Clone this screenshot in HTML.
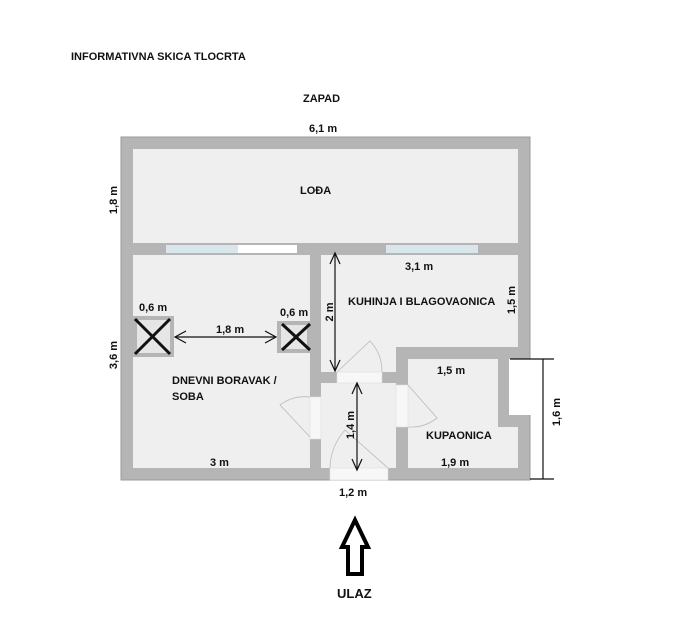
<!DOCTYPE html>
<html><head><meta charset="utf-8"><style>
body{margin:0;background:#fff;width:681px;height:624px;overflow:hidden}
text{font-family:"Liberation Sans",sans-serif;font-weight:bold;font-size:11px;fill:#111}
</style></head><body>
<svg width="681" height="624" viewBox="0 0 681 624" xmlns="http://www.w3.org/2000/svg">
<text x="71" y="60">INFORMATIVNA SKICA TLOCRTA</text>
<text x="303" y="102">ZAPAD</text>
<text x="309" y="132">6,1 m</text>
<rect x="121" y="137" width="409" height="343" fill="#b5b5b5" stroke="#9a9a9a"/>
<rect x="509" y="359" width="22" height="56" fill="#fff"/>
<g fill="#efefef">
<rect x="133" y="149" width="385" height="94"/>
<rect x="133" y="255" width="177" height="213"/>
<rect x="321" y="255" width="197" height="92"/>
<rect x="321" y="347" width="75" height="25"/>
<rect x="321" y="383" width="75" height="85"/>
<rect x="408" y="359" width="90" height="109"/>
<rect x="408" y="427" width="110" height="41"/>
</g>
<g fill="#f7f7f7" stroke="#ddd" stroke-width="0.6">
<rect x="337" y="372" width="45" height="11"/>
<rect x="330" y="468" width="58" height="12"/>
<rect x="310" y="397" width="11" height="42"/>
<rect x="396" y="385" width="12" height="42"/>
</g>
<rect x="166" y="245" width="72" height="8" fill="#d9e6ec"/>
<rect x="238" y="245" width="59" height="8" fill="#fff"/>
<rect x="386" y="245" width="92" height="8" fill="#d9e6ec"/>
<g fill="none" stroke="#bbb" stroke-width="0.8">
<path d="M382 372 A45 45 0 0 0 370 341 L337 372"/>
<path d="M310 397 A42 42 0 0 0 280 405 L310 437"/>
<path d="M330 468 A58 58 0 0 1 345 430 L388 468"/>
<path d="M408 427 A42 42 0 0 0 437 418 L408 385"/>
</g>
<rect x="133" y="316" width="41" height="41" fill="#b5b5b5"/>
<rect x="137" y="320" width="33" height="33" fill="#e6e6e6"/>
<rect x="277" y="321" width="34" height="32" fill="#b5b5b5"/>
<rect x="281" y="325" width="26" height="24" fill="#e6e6e6"/>
<g stroke="#111" stroke-width="3">
<line x1="135" y1="319" x2="170" y2="354"/><line x1="170" y1="319" x2="135" y2="354"/>
<line x1="282" y1="324" x2="310" y2="350"/><line x1="310" y1="324" x2="282" y2="350"/>
</g>
<g stroke="#111" stroke-width="1.2" fill="none">
<line x1="175" y1="337" x2="276" y2="337"/>
<polyline points="186,331 175,337 186,343"/><polyline points="265,331 276,337 265,343"/>
<line x1="335" y1="253" x2="335" y2="371"/>
<polyline points="330,264 335,253 340,264"/><polyline points="330,360 335,371 340,360"/>
<line x1="357" y1="383" x2="357" y2="470"/>
<polyline points="352,394 357,383 362,394"/><polyline points="352,459 357,470 362,459"/>
<line x1="543" y1="359" x2="543" y2="479"/>
<line x1="510" y1="359" x2="554" y2="359"/><line x1="530" y1="479" x2="554" y2="479"/>
</g>
<text x="300" y="194">LOĐA</text>
<text x="405" y="270">3,1 m</text>
<text x="348" y="305">KUHINJA I BLAGOVAONICA</text>
<text x="139" y="311">0,6 m</text>
<text x="280" y="316">0,6 m</text>
<text x="216" y="333">1,8 m</text>
<text x="172" y="384">DNEVNI BORAVAK /</text>
<text x="172" y="400">SOBA</text>
<text x="437" y="374">1,5 m</text>
<text x="426" y="439">KUPAONICA</text>
<text x="210" y="466">3 m</text>
<text x="441" y="466">1,9 m</text>
<text x="339" y="496">1,2 m</text>
<text transform="translate(117,200) rotate(-90)" text-anchor="middle">1,8 m</text>
<text transform="translate(117,355) rotate(-90)" text-anchor="middle">3,6 m</text>
<text transform="translate(333,312) rotate(-90)" text-anchor="middle">2 m</text>
<text transform="translate(354,425) rotate(-90)" text-anchor="middle">1,4 m</text>
<text transform="translate(515,300) rotate(-90)" text-anchor="middle">1,5 m</text>
<text transform="translate(560,412) rotate(-90)" text-anchor="middle">1,6 m</text>
<polygon points="355,520 342,547 348,547 348,574 362,574 362,547 368,547" fill="#fff" stroke="#000" stroke-width="4" stroke-linejoin="miter"/>
<text x="337" y="598" style="font-size:13px">ULAZ</text>
</svg>
</body></html>
